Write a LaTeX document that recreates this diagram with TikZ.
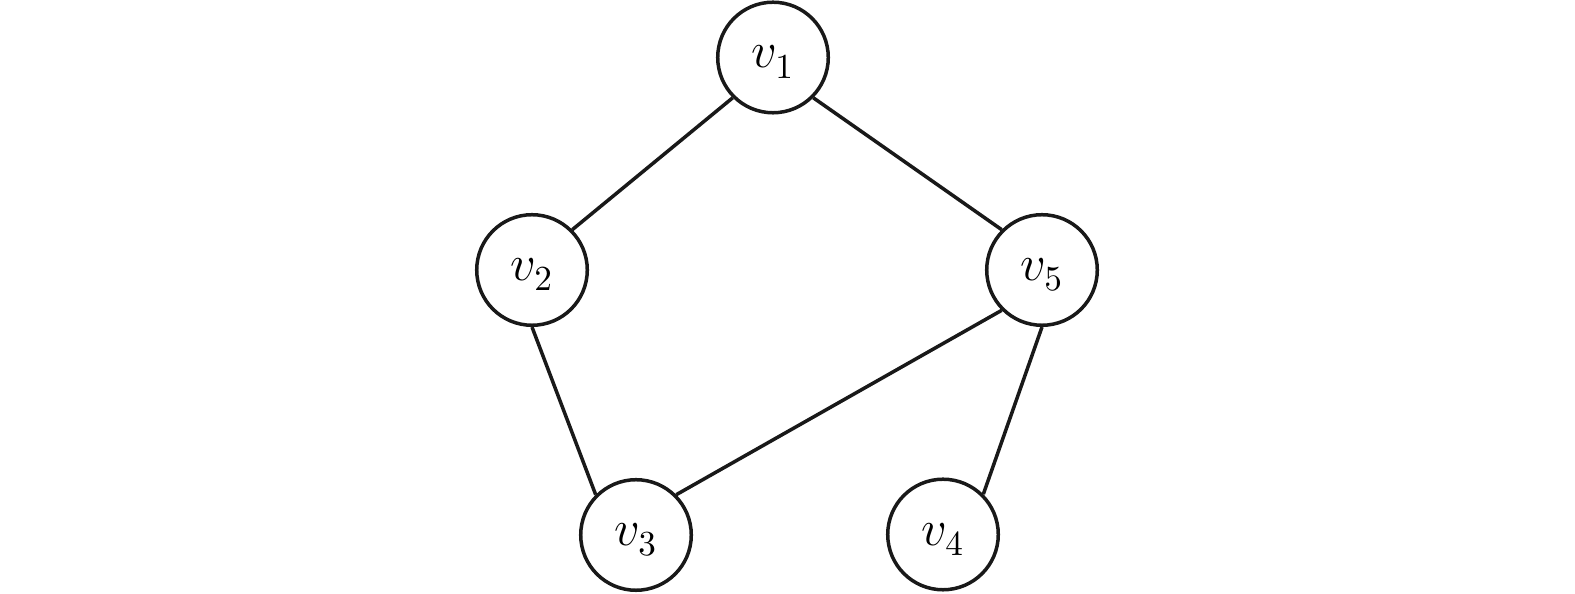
\documentclass[tikz,border=0pt]{standalone}
\usepackage{amsmath}
\newcommand{\vlab}[1]{$\fontdimen16\textfont2=0.1cm v_{#1}$}
\begin{document}
\begin{tikzpicture}[x=0.01cm,y=0.01cm,
  vert/.style={circle,draw=black!90,line width=0.035cm,minimum size=1.105cm,inner sep=0pt,
    text height=2.1mm,text depth=0pt,font=\fontsize{14}{17}\selectfont},
  edge/.style={draw=black!90,line width=0.035cm}]
\useasboundingbox (0,0) rectangle (1575,594);
\node[vert] (v1) at (773,536.5) {\vlab{1}};
\node[vert] (v2) at (532,324) {\vlab{2}};
\node[vert] (v5) at (1042,324) {\vlab{5}};
\node[vert] (v3) at (636,59) {\vlab{3}};
\node[vert] (v4) at (943,59.5) {\vlab{4}};
\draw[edge] (v1.south west) -- (v2.north east);
\draw[edge] (v1.south east) -- (v5.north west);
\draw[edge] (v2.south) -- (v3.north west);
\draw[edge] (v5.south west) -- (v3.north east);
\draw[edge] (v5.south) -- (v4.north east);
\end{tikzpicture}
\end{document}
